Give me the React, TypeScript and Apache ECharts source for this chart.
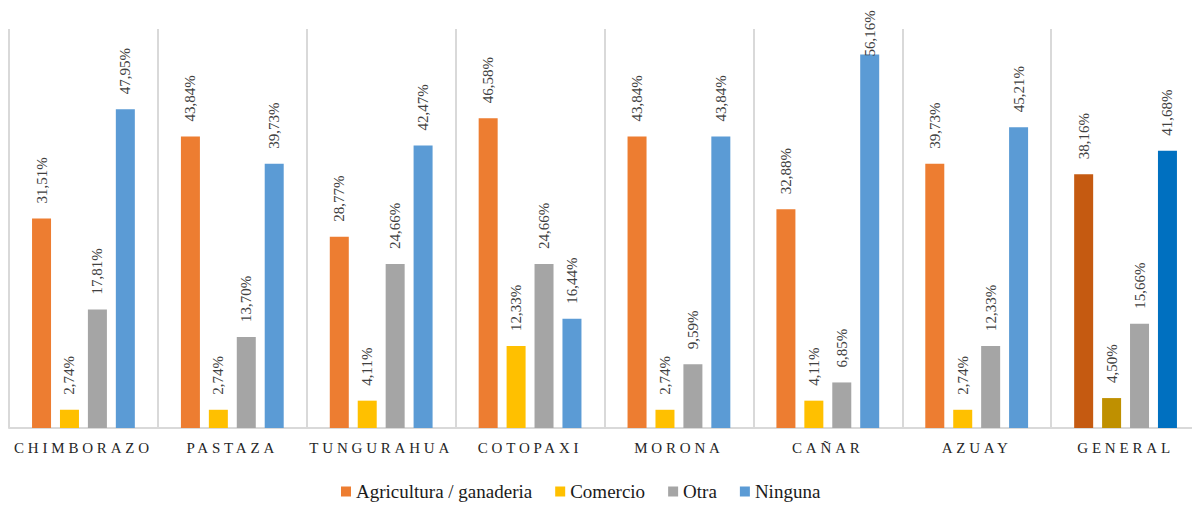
import React, { useEffect, useRef } from "react";
import * as echarts from "echarts";

const categories = ["CHIMBORAZO", "PASTAZA", "TUNGURAHUA", "COTOPAXI", "MORONA", "CAÑAR", "AZUAY", "GENERAL"];
const seriesNames = ["Agricultura / ganaderia", "Comercio", "Otra", "Ninguna"];
const agricultura = [31.51, 43.84, 28.77, 46.58, 43.84, 32.88, 39.73, 38.16];
const comercio = [2.74, 2.74, 4.11, 12.33, 2.74, 4.11, 2.74, 4.5];
const otra = [17.81, 13.7, 24.66, 24.66, 9.59, 6.85, 12.33, 15.66];
const ninguna = [47.95, 39.73, 42.47, 16.44, 43.84, 56.16, 45.21, 41.68];
const baseColors = ["#ED7D31", "#FFC000", "#A5A5A5", "#5B9BD5"];
const generalColors = ["#C55A11", "#BF9000", "#A5A5A5", "#0070C0"];

const SERIF = "Liberation Serif";
const MAX_Y = 60;

export default function App() {
  const ref = useRef<HTMLDivElement>(null);
  useEffect(() => {
    if (!ref.current) return;
    const chart = echarts.init(ref.current, null, { renderer: "svg" });
    const allData = [agricultura, comercio, otra, ninguna];
    const series = allData.map((vals, si) => ({
      name: seriesNames[si],
      type: "bar",
      barWidth: 19,
      barGap: "47%",
      itemStyle: { color: baseColors[si] },
      label: {
        show: true,
        position: "top",
        rotate: 90,
        align: "left",
        verticalAlign: "middle",
        distance: 15,
        fontFamily: SERIF,
        fontSize: 15,
        color: "#404040",
        formatter: (p: any) => p.value.toFixed(2).replace(".", ",") + "%",
      },
      data: vals.map((v, i) => {
        const item: any = { value: v };
        if (i === categories.length - 1) item.itemStyle = { color: generalColors[si] };
        if (v > 54) item.label = { distance: -2 };
        return item;
      }),
    }));
    chart.setOption({
      animation: false,
      textStyle: { fontFamily: SERIF },
      grid: { left: 9, right: 0, top: 29, bottom: 79, containLabel: false },
      legend: {
        data: seriesNames,
        left: 341,
        top: 482,
        padding: 0,
        itemGap: 23,
        itemWidth: 10,
        itemHeight: 10,
        icon: "rect",
        textStyle: { fontFamily: SERIF, fontSize: 19, color: "#1a1a1a" },
      },
      xAxis: {
        type: "category",
        data: categories,
        axisLine: { show: true, lineStyle: { color: "#D9D9D9", width: 2 } },
        axisTick: { show: false },
        splitLine: { show: true, lineStyle: { color: "#D9D9D9", width: 2 } },
        axisLabel: {
          interval: 0,
          margin: 12,
          fontFamily: SERIF,
          fontSize: 15,
          color: "#262626",
        },
      },
      yAxis: {
        type: "value",
        min: 0,
        max: MAX_Y,
        show: false,
        splitLine: { show: false },
      },
      series,
    });
    const svg = ref.current.querySelector("svg");
    if (svg) {
      svg.querySelectorAll("text").forEach((t) => {
        if (categories.includes((t.textContent || "").trim())) {
          (t as SVGTextElement).style.letterSpacing = "3.8px";
        }
      });
    }
    return () => chart.dispose();
  }, []);
  return (
    <div style={{ position: "absolute", left: 0, top: 0, width: 1192, height: 507, overflow: "hidden", background: "#fff" }}>
      <div ref={ref} style={{ width: 1200, height: 507 }} />
    </div>
  );
}
